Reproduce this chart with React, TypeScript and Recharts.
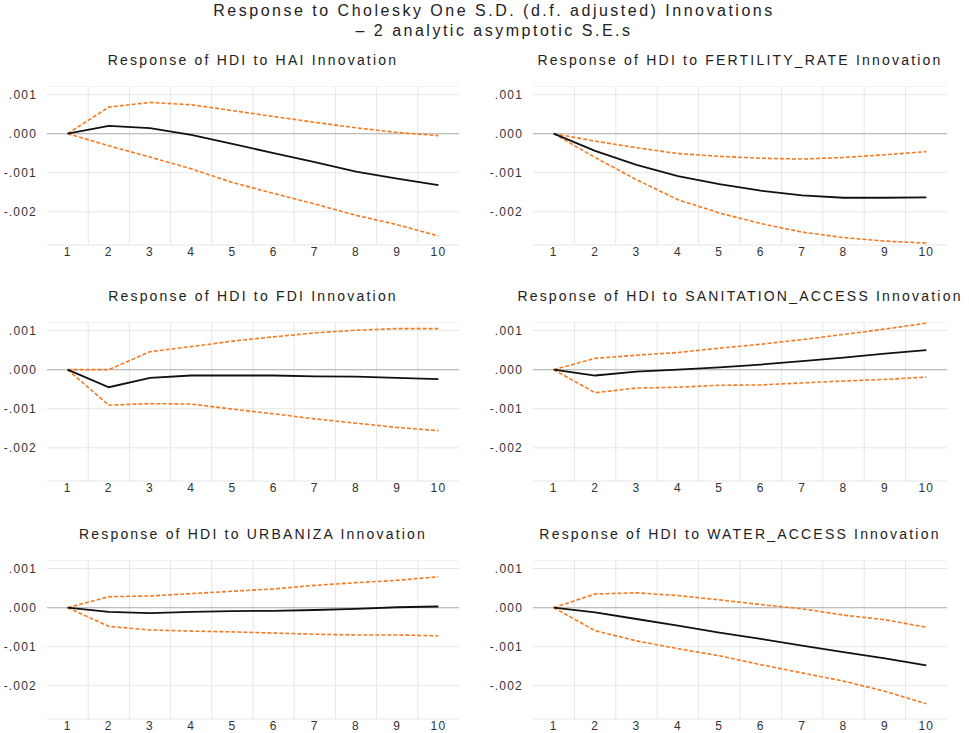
import React from 'react'
import { LineChart, Line, XAxis, YAxis, CartesianGrid, ReferenceLine } from 'recharts'

// impulse response periods
const periods = [1, 2, 3, 4, 5, 6, 7, 8, 9, 10]
const yTicks = [-0.002, -0.001, 0, 0.001]
const midGrid = [1.5, 2.5, 3.5, 4.5, 5.5, 6.5, 7.5, 8.5, 9.5]

const haiResp = [0, 0.0002, 0.00014, -0.00003, -0.00026, -0.0005, -0.00073, -0.00097, -0.00115, -0.00132]
const haiUpper = [0, 0.00068, 0.0008, 0.00074, 0.00059, 0.00044, 0.00029, 0.00015, 0.00003, -0.00005]
const haiLower = [0, -0.00031, -0.0006, -0.0009, -0.00125, -0.00153, -0.0018, -0.00209, -0.00233, -0.00262]

const fertResp = [0, -0.00044, -0.0008, -0.00109, -0.00129, -0.00146, -0.00158, -0.00164, -0.00164, -0.00163]
const fertUpper = [0, -0.00019, -0.00036, -0.00051, -0.00058, -0.00063, -0.00065, -0.00061, -0.00054, -0.00046]
const fertLower = [0, -0.00061, -0.00118, -0.00169, -0.00203, -0.0023, -0.00252, -0.00266, -0.00275, -0.0028]

const fdiResp = [0, -0.00045, -0.00021, -0.00015, -0.00015, -0.00015, -0.00017, -0.00018, -0.00021, -0.00024]
const fdiUpper = [0, 0, 0.00046, 0.00059, 0.00073, 0.00084, 0.00094, 0.00101, 0.00105, 0.00105]
const fdiLower = [0, -0.00091, -0.00087, -0.00088, -0.00101, -0.00113, -0.00126, -0.00137, -0.00148, -0.00156]

const sanResp = [0, -0.00015, -0.00005, 0, 0.00006, 0.00013, 0.00022, 0.00031, 0.00041, 0.0005]
const sanUpper = [0, 0.00029, 0.00037, 0.00044, 0.00055, 0.00065, 0.00077, 0.0009, 0.00104, 0.00119]
const sanLower = [0, -0.00059, -0.00047, -0.00045, -0.0004, -0.00039, -0.00034, -0.00029, -0.00025, -0.00019]

const urbResp = [0, -0.00011, -0.00014, -0.00011, -0.00009, -0.00008, -0.00006, -0.00003, 0.00001, 0.00003]
const urbUpper = [0, 0.00028, 0.0003, 0.00036, 0.00042, 0.00048, 0.00057, 0.00064, 0.0007, 0.00079]
const urbLower = [0, -0.00048, -0.00057, -0.0006, -0.00062, -0.00065, -0.00068, -0.0007, -0.0007, -0.00072]

const waterResp = [0, -0.00012, -0.00029, -0.00046, -0.00064, -0.0008, -0.00097, -0.00114, -0.0013, -0.00148]
const waterUpper = [0, 0.00035, 0.00038, 0.00031, 0.0002, 0.00008, -0.00003, -0.00019, -0.00031, -0.0005]
const waterLower = [0, -0.00059, -0.00085, -0.00105, -0.00123, -0.00146, -0.00167, -0.00188, -0.00214, -0.00246]

const panels = [
  { title: 'Response of HDI to HAI Innovation', resp: haiResp, upper: haiUpper, lower: haiLower },
  { title: 'Response of HDI to FERTILITY_RATE Innovation', resp: fertResp, upper: fertUpper, lower: fertLower },
  { title: 'Response of HDI to FDI Innovation', resp: fdiResp, upper: fdiUpper, lower: fdiLower },
  { title: 'Response of HDI to SANITATION_ACCESS Innovation', resp: sanResp, upper: sanUpper, lower: sanLower },
  { title: 'Response of HDI to URBANIZA Innovation', resp: urbResp, upper: urbUpper, lower: urbLower },
  { title: 'Response of HDI to WATER_ACCESS Innovation', resp: waterResp, upper: waterUpper, lower: waterLower },
]

const FONT = '"Liberation Sans", Arial, sans-serif'
const ORANGE = '#f47a22'
const GRID = '#e6e6e6'

const cols = [
  { left: 0, width: 480, axisW: 47, right: 21 },
  { left: 480, width: 489, axisW: 53, right: 22 },
]
const rowTops = [86, 322, 560]
const PLOT_H = 159
const XAXIS_H = 20

function fmt(v: number) {
  const s = Math.abs(v).toFixed(3).replace(/^0/, '')
  return v < 0 ? '-' + s : s
}

function Panel({ p, idx }: { p: any; idx: number }) {
  const col = cols[idx % 2]
  const top = rowTops[Math.floor(idx / 2)]
  const data = periods.map((t, i) => ({ t, resp: p.resp[i], upper: p.upper[i], lower: p.lower[i] }))
  const plotLeft = col.left + col.axisW
  const plotW = col.width - col.axisW - col.right
  const tick = { fontSize: 12, fill: '#333', fontFamily: FONT, letterSpacing: 1.2 }
  return (
    <>
      <div
        style={{
          position: 'absolute',
          left: plotLeft - 60,
          width: plotW + 120,
          top: top - 35,
          textAlign: 'center',
          fontFamily: FONT,
          fontSize: 14,
          letterSpacing: 2.2,
          color: '#222',
          lineHeight: '18px',
          whiteSpace: 'nowrap',
        }}
      >
        {p.title}
      </div>
      <div style={{ position: 'absolute', left: col.left, top }}>
        <LineChart
          width={col.width}
          height={PLOT_H + XAXIS_H}
          data={data}
          margin={{ top: 0, right: col.right, bottom: 0, left: 0 }}
        >
          <CartesianGrid vertical={false} stroke={GRID} />
          {midGrid.map((g) => (
            <ReferenceLine key={g} x={g} stroke={GRID} />
          ))}
          <ReferenceLine y={0} stroke="#bdbdbd" strokeWidth={1.2} />
          <XAxis
            dataKey="t"
            type="number"
            domain={[0.5, 10.5]}
            ticks={periods}
            axisLine={false}
            tickLine={false}
            tickSize={0}
            tickMargin={2}
            height={XAXIS_H}
            tick={tick}
            interval={0}
          />
          <YAxis
            type="number"
            domain={[-0.00285, 0.00122]}
            ticks={yTicks}
            allowDataOverflow
            axisLine={false}
            tickLine={false}
            tickSize={0}
            tickMargin={10}
            width={col.axisW}
            tick={tick}
            tickFormatter={fmt}
            interval={0}
          />
          <Line dataKey="upper" stroke={ORANGE} strokeWidth={1.6} strokeDasharray="4 2" dot={false} isAnimationActive={false} />
          <Line dataKey="lower" stroke={ORANGE} strokeWidth={1.6} strokeDasharray="4 2" dot={false} isAnimationActive={false} />
          <Line dataKey="resp" stroke="#111" strokeWidth={1.8} dot={false} isAnimationActive={false} />
        </LineChart>
      </div>
    </>
  )
}

export default function App() {
  return (
    <div style={{ position: 'absolute', left: 0, top: 0, width: 969, height: 733, background: '#fff', overflow: 'hidden' }}>
      <div
        style={{
          position: 'absolute',
          left: 0,
          width: 988,
          top: 1,
          textAlign: 'center',
          fontFamily: FONT,
          fontSize: 16,
          letterSpacing: 2.5,
          color: '#222',
          lineHeight: '20px',
        }}
      >
        <div>Response to Cholesky One S.D. (d.f. adjusted) Innovations</div>
        <div>– 2 analytic asymptotic S.E.s</div>
      </div>
      {panels.map((p, i) => (
        <Panel key={p.title} p={p} idx={i} />
      ))}
    </div>
  )
}
